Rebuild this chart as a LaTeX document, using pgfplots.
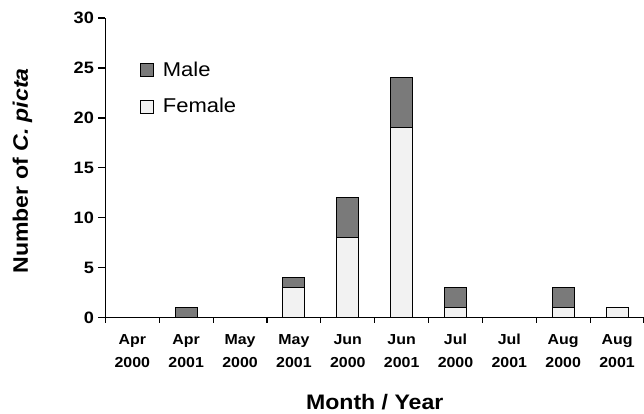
\documentclass[border=0pt]{standalone}
\usepackage{pgfplots}
\pgfplotsset{compat=1.18}
\usepackage{fontspec}
\setmainfont{Liberation Sans}[FakeStretch=1.1]
\definecolor{malegray}{RGB}{122,122,122}
\definecolor{femalegray}{RGB}{242,242,242}
\pgfplotstableread{
x female male
0 0 0
1 0 1
2 0 0
3 3 1
4 8 4
5 19 5
6 1 2
7 0 0
8 1 2
9 1 0
}\datatable
\newcommand{\fl}{\rule{0pt}{12pt}}
\begin{document}
\begin{tikzpicture}
\begin{axis}[
  name=ax,
  scale only axis,
  width=539pt, height=300pt,
  xmin=-0.5, xmax=9.5, ymin=0, ymax=30,
  axis x line=bottom, axis y line=left,
  axis line style={-, line width=1.2pt},
  tick align=outside,
  ytick={0,5,...,30},
  xtick={0,...,9},
  xticklabels={{\fl Apr\\2000},{\fl Apr\\2001},{\fl May\\2000},{\fl May\\2001},{\fl Jun\\2000},{\fl Jun\\2001},{\fl Jul\\2000},{\fl Jul\\2001},{\fl Aug\\2000},{\fl Aug\\2001}},
  minor xtick={-0.5,0.5,...,9.5},
  major x tick style={draw=none},
  minor tick length=5pt,
  major tick length=7pt,
  every tick/.style={line width=1.2pt, black},
  /pgf/number format/assume math mode=true,
  yticklabel style={font=\fontsize{16.5}{18}\selectfont\bfseries, xshift=-1pt},
  xticklabel style={font=\fontsize{14.5}{23}\selectfont\bfseries, align=center, yshift=-4pt},
  ylabel={\textbf{Number of \textit{C. picta}}},
  ylabel style={font=\fontsize{21}{24}\selectfont, at={(rel axis cs:0,0.5)}, anchor=center, yshift=83pt, xshift=-3pt},
  xlabel={\textbf{Month / Year}},
  xlabel style={font=\fontsize{21}{26}\selectfont, at={(rel axis cs:0.5,0)}, yshift=-84pt, anchor=center},
  ybar stacked,
  bar width=22pt,
  legend reversed=true,
  legend style={draw=none, fill=none, at={(0.064,0.862)}, anchor=north west,
    font=\fontsize{20}{23}\selectfont, row sep=17pt, inner xsep=0pt, inner ysep=0pt,
    cells={anchor=west}, /tikz/every odd column/.append style={column sep=7pt}},
  legend image code/.code={\draw[#1, draw=black, line width=0.8pt] (0pt,-6.5pt) rectangle (13pt,6.5pt);},
]
\addplot[fill=femalegray, draw=black, line width=1pt] table[x=x, y=female] {\datatable};
\addlegendentry{Female}
\addplot[fill=malegray, draw=black, line width=1pt] table[x=x, y=male] {\datatable};
\addlegendentry{Male}
\end{axis}
\pgfresetboundingbox
\path[use as bounding box] ([xshift=-105.5pt,yshift=-96pt]ax.south west) rectangle ([yshift=18pt]ax.north east);
\end{tikzpicture}
\end{document}
